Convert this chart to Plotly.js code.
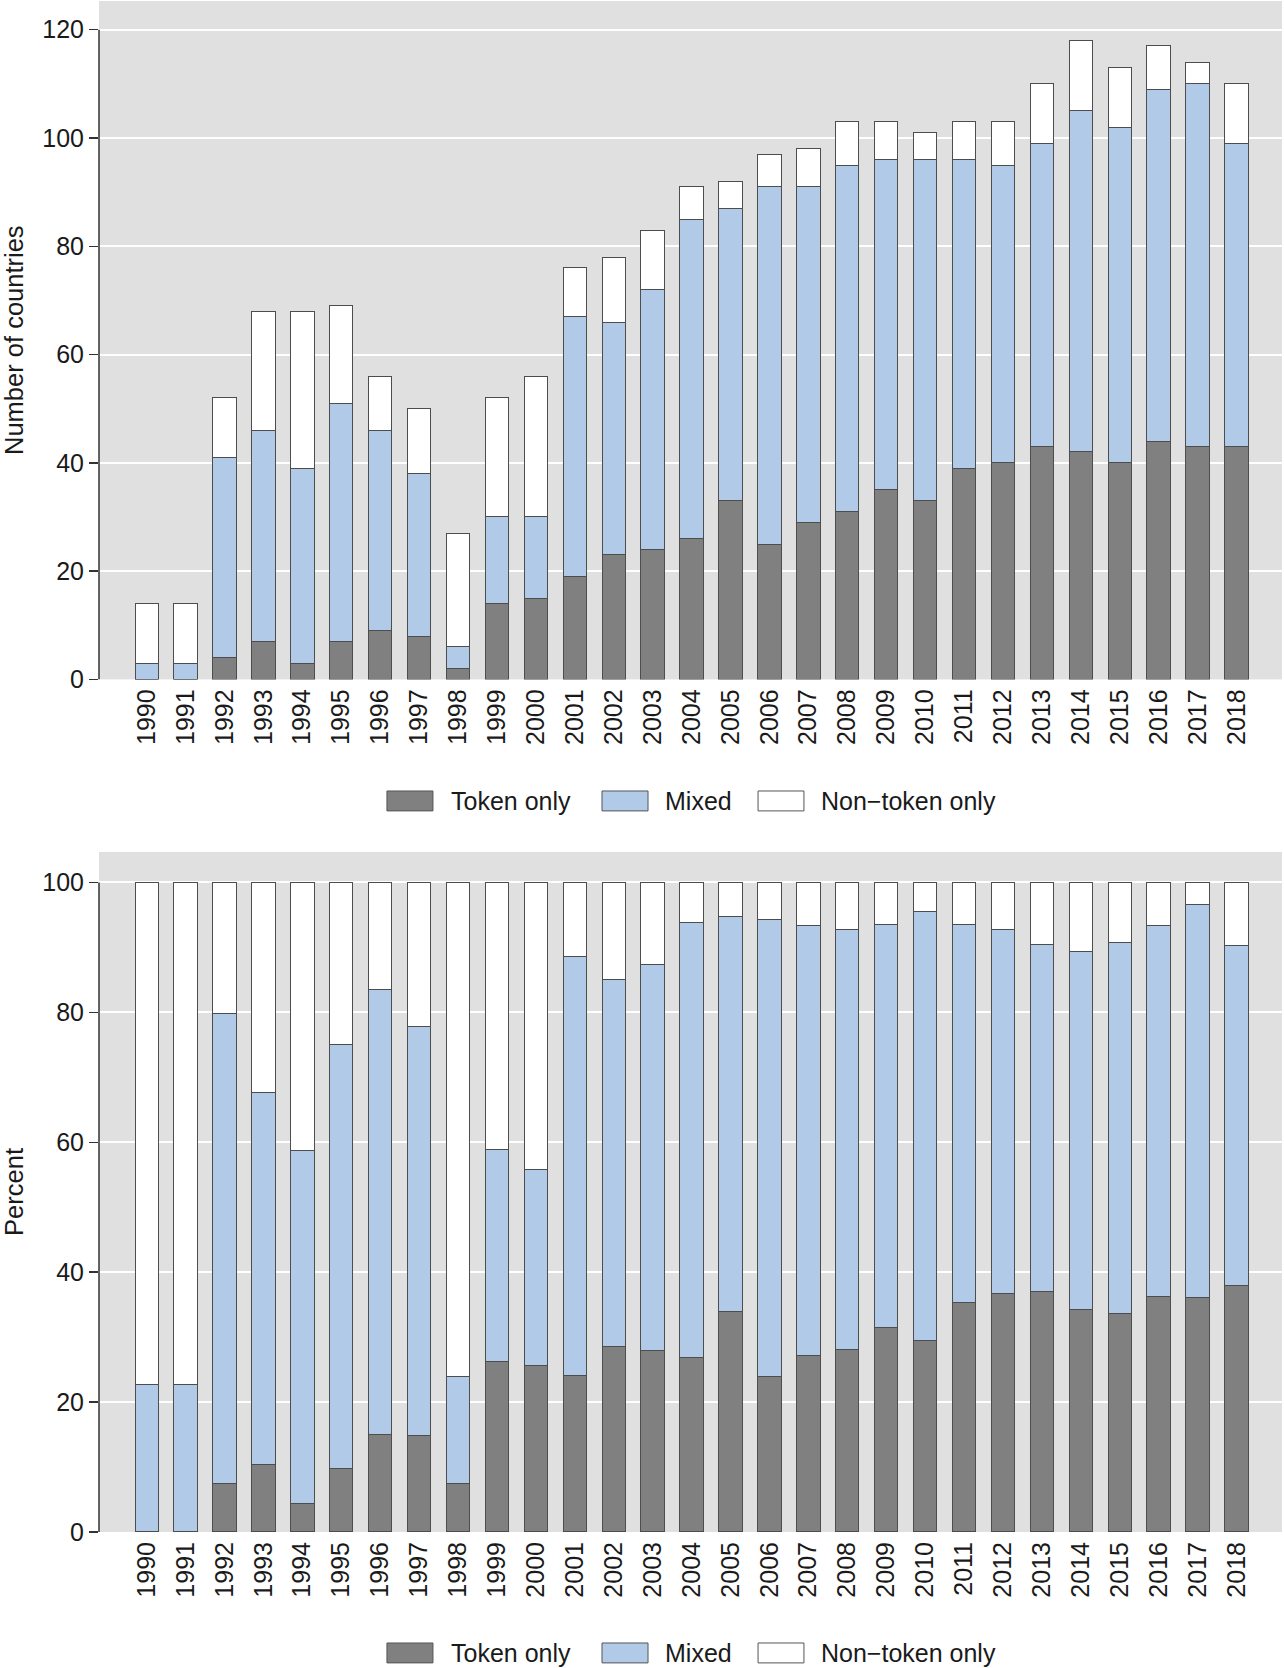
<!DOCTYPE html>
<html>
<head>
<meta charset="utf-8">
<script src="https://cdn.plot.ly/plotly-3.0.1.min.js"></script>
<style>html,body{margin:0;padding:0;background:#fff;}#chart{width:1284px;height:1668px;}</style>
</head>
<body>
<div id="chart"></div>
<script>
// ---- Data ----
const years = ['1990','1991','1992','1993','1994','1995','1996','1997','1998','1999','2000','2001','2002','2003','2004','2005','2006','2007','2008','2009','2010','2011','2012','2013','2014','2015','2016','2017','2018'];
const seriesNames = ['Token only', 'Mixed', 'Non\u2212token only'];

// Number of countries
const countToken    = [0,0,4,7,3,7,9,8,2,14,15,19,23,24,26,33,25,29,31,35,33,39,40,43,42,40,44,43,43];
const countMixed    = [3,3,37,39,36,44,37,30,4,16,15,48,43,48,59,54,66,62,64,61,63,57,55,56,63,62,65,67,56];
const countNonToken = [11,11,11,22,29,18,10,12,21,22,26,9,12,11,6,5,6,7,8,7,5,7,8,11,13,11,8,4,11];

// Percent
const pctToken    = [0,0,7.5,10.4,4.4,9.8,15.0,14.8,7.4,26.2,25.6,24.1,28.6,27.9,26.8,34.0,24.0,27.2,28.1,31.5,29.5,35.4,36.7,37.1,34.2,33.7,36.3,36.1,37.9];
const pctMixed    = [22.7,22.7,72.3,57.2,54.3,65.2,68.5,63.1,16.6,32.7,30.2,64.5,56.5,59.4,67.0,60.8,70.3,66.2,64.6,62.1,66.0,58.2,56.0,53.4,55.2,57.0,57.0,60.5,52.4];
const pctNonToken = [77.3,77.3,20.2,32.4,41.3,25.0,16.5,22.1,76.0,41.1,44.2,11.4,14.9,12.7,6.2,5.2,5.7,6.6,7.3,6.4,4.5,6.4,7.3,9.5,10.6,9.3,6.7,3.4,9.7];

const yTicksCount = [0,20,40,60,80,100,120];
const yTicksPct   = [0,20,40,60,80,100];

// ---- Styles ----
const colors = ['#808080', '#b1cae8', '#ffffff'];
const FONT = '"Liberation Sans", Arial, Helvetica, sans-serif';
const TXT = '#1a1a1a';
const outline = {color: '#4d4d4d', width: 1};

function bars(vals, i, xa, ya) {
  return {type: 'bar', x: years, y: vals, name: seriesNames[i], xaxis: xa, yaxis: ya,
          marker: {color: colors[i], line: outline}, showlegend: false, hoverinfo: 'x+y+name'};
}

const data = [
  bars(countToken, 0, 'x', 'y'), bars(countMixed, 1, 'x', 'y'), bars(countNonToken, 2, 'x', 'y'),
  bars(pctToken, 0, 'x2', 'y2'), bars(pctMixed, 1, 'x2', 'y2'), bars(pctNonToken, 2, 'x2', 'y2')
];

const xCommon = {type: 'category', range: [-1.225, 29.17], tickangle: -90, ticks: '', showgrid: false,
  zeroline: false, showline: false, tickfont: {family: FONT, size: 25, color: TXT}, ticklabelstandoff: 4, fixedrange: true};
const yCommon = {showgrid: true, gridcolor: '#ffffff', gridwidth: 2, zeroline: false, showline: false,
  ticks: 'outside', ticklen: 9, tickwidth: 1.5, tickcolor: '#333', tickfont: {family: FONT, size: 25, color: TXT}};

const layout = {
  width: 1284, height: 1668,
  margin: {l: 99, r: 2, t: 1, b: 136},
  paper_bgcolor: '#ffffff', plot_bgcolor: '#e0e0e0',
  barmode: 'stack', bargap: 0.4,
  showlegend: false,
  font: {family: FONT, color: TXT},
  xaxis: Object.assign({}, xCommon, {anchor: 'y', domain: [0, 1]}),
  xaxis2: Object.assign({}, xCommon, {anchor: 'y2', domain: [0, 1]}),
  yaxis: Object.assign({}, yCommon, {domain: [0.5569, 1], range: [0, 125.3], tickvals: yTicksCount,
    title: {text: 'Number of countries', font: {family: FONT, size: 25.5, color: TXT}, standoff: 15}}),
  yaxis2: Object.assign({}, yCommon, {domain: [0, 0.4442], range: [0, 104.7], tickvals: yTicksPct,
    title: {text: 'Percent', font: {family: FONT, size: 25.5, color: TXT}, standoff: 15}}),
  shapes: [],
  annotations: []
};

// y axis lines spanning only the labelled range
layout.shapes.push({type: 'line', xref: 'paper', yref: 'y', x0: 0, x1: 0, y0: 0, y1: yTicksCount[yTicksCount.length-1], line: {color: '#333', width: 1.5}});
layout.shapes.push({type: 'line', xref: 'paper', yref: 'y2', x0: 0, x1: 0, y0: 0, y1: yTicksPct[yTicksPct.length-1], line: {color: '#333', width: 1.5}});

// custom legends (large swatches) below each panel
const swX = [[0.2434, 0.2823], [0.4252, 0.4641], [0.5571, 0.5959]];
const txX = [0.2960, 0.4770, 0.6090];
const legY = [0.4775, -0.0790];
const halfH = 0.0065;
legY.forEach(function (cy) {
  seriesNames.forEach(function (nm, i) {
    layout.shapes.push({type: 'rect', xref: 'paper', yref: 'paper', x0: swX[i][0], x1: swX[i][1],
      y0: cy - halfH, y1: cy + halfH, fillcolor: colors[i], line: {color: '#555', width: 1}});
    layout.annotations.push({xref: 'paper', yref: 'paper', x: txX[i], y: cy, xanchor: 'left', yanchor: 'middle',
      text: nm, showarrow: false, font: {family: FONT, size: 25, color: TXT}});
  });
});

Plotly.newPlot('chart', data, layout, {displayModeBar: false, staticPlot: true});
</script>
</body>
</html>
